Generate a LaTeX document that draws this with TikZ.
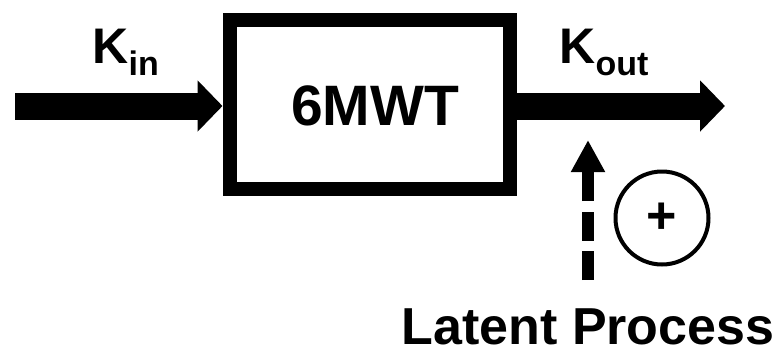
\documentclass[tikz,border=0pt]{standalone}
\usepackage{fontspec}
\setmainfont{Liberation Sans}
\usetikzlibrary{arrows.meta}
\tikzset{
  lbl/.style={inner sep=0pt, outer sep=0pt, font=\bfseries},
  flow/.style={line width=27pt, -{Triangle[length=25pt,width=50pt]}},
  latent/.style={line width=12.5pt, dash pattern=on 29pt off 10.5pt, -{Triangle[length=32pt,width=32pt]}}
}
\begin{document}
\begin{tikzpicture}[x=1pt,y=-1pt]
\useasboundingbox[fill=white] (0,0) rectangle (782,349);
% box
\node[draw, line width=14pt, minimum width=280.5pt, minimum height=169.5pt, inner sep=0pt] (box) at (369.75,104.25) {};
\node[lbl, anchor=base, font=\bfseries\fontsize{57}{57}\selectfont] (title) at (375,125) {6MWT};
% input / output
\coordinate (in0) at (15,106);
\coordinate (out1) at (725,106);
\draw[flow] (in0) -- (box.west |- in0);
\draw[flow] (box.east |- out1) -- (out1);
\node[lbl, anchor=base west, font=\bfseries\fontsize{50}{50}\selectfont] (kin) at (92.5,63) {K\raisebox{-12pt}{\fontsize{34}{34}\selectfont in}};
\node[lbl, anchor=base west, font=\bfseries\fontsize{50}{50}\selectfont] (kout) at (559.5,63) {K\raisebox{-12pt}{\fontsize{34}{34}\selectfont out}};
% latent process
\node[lbl, anchor=base, font=\bfseries\fontsize{52}{52}\selectfont] (lp) at (588,344) {Latent Process};
\coordinate (lp0) at (588,280);
\coordinate (lp1) at (588,140);
\draw[latent] (lp0) -- (lp1);
\node[draw, circle, line width=4pt, minimum size=93pt, inner sep=0pt, font=\bfseries\fontsize{52}{52}\selectfont] (plus) at (662,218) {+};
\end{tikzpicture}
\end{document}
